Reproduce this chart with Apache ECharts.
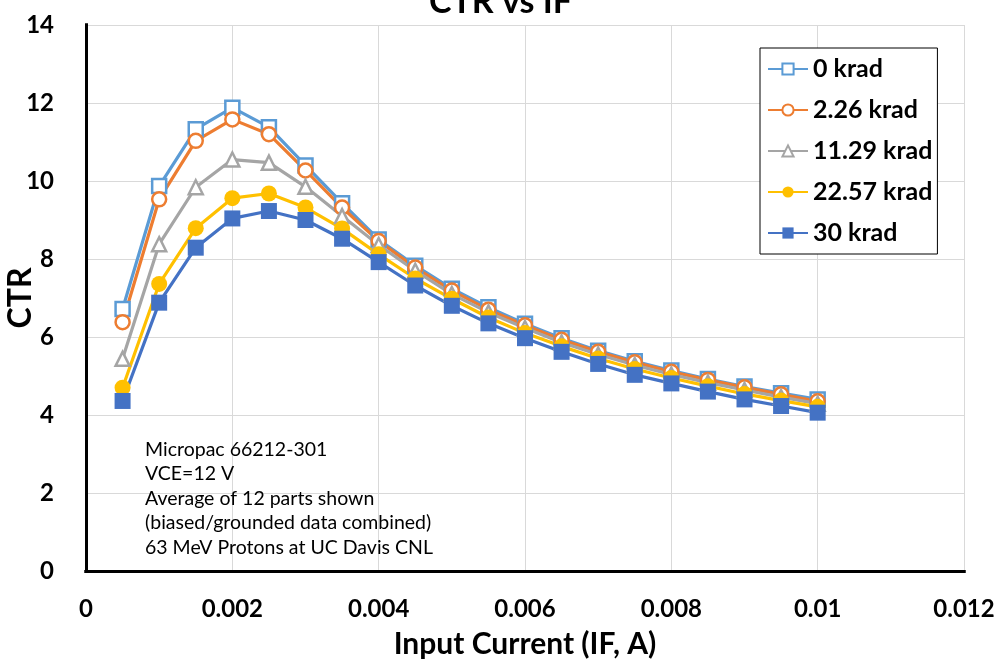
<!DOCTYPE html>
<html>
<head>
<meta charset="utf-8">
<script src="https://cdn.jsdelivr.net/npm/echarts@6/dist/echarts.min.js"></script>
<style>html,body{margin:0;padding:0;background:#fff}#c{width:1001px;height:663px}</style>
</head>
<body>
<div id="c"></div>
<script>
const inputCurrent = [0.0005,0.001,0.0015,0.002,0.0025,0.003,0.0035,0.004,0.0045,0.005,0.0055,0.006,0.0065,0.007,0.0075,0.008,0.0085,0.009,0.0095,0.01];
const ctr0krad   = [6.72,9.87,11.33,11.88,11.38,10.40,9.43,8.50,7.83,7.24,6.76,6.34,5.97,5.65,5.38,5.14,4.92,4.73,4.56,4.40];
const ctr2_26krad = [6.38,9.53,11.03,11.58,11.20,10.27,9.32,8.46,7.78,7.19,6.70,6.30,5.93,5.62,5.35,5.11,4.90,4.71,4.53,4.35];
const ctr11_29krad = [5.44,8.38,9.84,10.55,10.47,9.85,9.10,8.36,7.70,7.10,6.63,6.23,5.86,5.55,5.28,5.04,4.83,4.64,4.46,4.29];
const ctr22_57krad = [4.70,7.36,8.79,9.56,9.68,9.32,8.78,8.12,7.50,6.98,6.50,6.10,5.76,5.45,5.18,4.95,4.74,4.54,4.37,4.21];
const ctr30krad  = [4.36,6.88,8.29,9.04,9.23,9.00,8.52,7.92,7.32,6.80,6.35,5.97,5.62,5.31,5.03,4.81,4.60,4.40,4.23,4.06];
const seriesNames = ['0 krad','2.26 krad','11.29 krad','22.57 krad','30 krad'];
const annotationLines = ['Micropac 66212-301','VCE=12 V','Average of 12 parts shown','(biased/grounded data combined)','63 MeV Protons at UC Davis CNL'];

const FONT = 'Lato, "Open Sans", sans-serif';
const pair = ys => ys.map((y,i)=>[inputCurrent[i], y]);

const styles = [
  {c:'#5B9BD5', sym:'rect', hollow:true},
  {c:'#ED7D31', sym:'circle', hollow:true},
  {c:'#A5A5A5', sym:'triangle', hollow:true},
  {c:'#FFC000', sym:'circle', hollow:false},
  {c:'#4472C4', sym:'rect', hollow:false}
];
const allData = [ctr0krad, ctr2_26krad, ctr11_29krad, ctr22_57krad, ctr30krad];

const series = allData.map((d,i)=>({
  name: seriesNames[i],
  type: 'line',
  data: pair(d),
  symbol: styles[i].sym,
  symbolSize: styles[i].hollow ? 14 : 16,
  showAllSymbol: true,
  lineStyle: {color: styles[i].c, width: 3.2},
  itemStyle: styles[i].hollow
    ? {color: '#fff', borderColor: styles[i].c, borderWidth: 2.5}
    : {color: styles[i].c, borderColor: styles[i].c, borderWidth: 0},
  emphasis: {disabled: true},
  animation: false
}));

const frameLine = {show: true, lineStyle: {color: '#000', width: 3, cap: 'square'}};
const labelStyle = {fontFamily: FONT, fontWeight: 'bold', fontSize: 24, color: '#000'};

const chart = echarts.init(document.getElementById('c'));
chart.setOption({
  animation: false,
  title: {
    text: 'CTR vs IF', left: 'center', top: -20,
    textStyle: {fontFamily: FONT, fontWeight: 'bold', fontSize: 34, color: '#000'}
  },
  grid: {left: 86, right: 37, top: 25, bottom: 92, containLabel: false, outerBoundsMode: 'none'},
  legend: {
    orient: 'vertical', left: 760, top: 48,
    backgroundColor: '#fff', borderColor: '#000', borderWidth: 1,
    padding: [7, 5, 7, 7],
    itemWidth: 40, itemHeight: 14, itemGap: 13,
    textStyle: {fontFamily: FONT, fontWeight: 'bold', fontSize: 25, color: '#000', lineHeight: 28},
    data: seriesNames
  },
  xAxis: [{
    type: 'value', min: 0, max: 0.012, interval: 0.002,
    name: 'Input Current (IF, A)', nameLocation: 'middle', nameGap: 58, nameMoveOverlap: false,
    nameTextStyle: {fontFamily: FONT, fontWeight: 'bold', fontSize: 30, color: '#000'},
    axisLine: frameLine, axisTick: {show: false},
    axisLabel: Object.assign({margin: 26}, labelStyle),
    splitLine: {show: true, lineStyle: {color: '#d9d9d9', width: 1}}
  }, {
    type: 'value', position: 'top', min: 0, max: 0.012, interval: 0.002,
    axisLine: frameLine, axisTick: {show: false}, axisLabel: {show: false}, splitLine: {show: false}
  }],
  yAxis: [{
    type: 'value', min: 0, max: 14, interval: 2,
    name: 'CTR', nameLocation: 'middle', nameGap: 49, nameRotate: 90, nameMoveOverlap: false,
    nameTextStyle: {fontFamily: FONT, fontWeight: 'bold', fontSize: 32, color: '#000'},
    axisLine: frameLine, axisTick: {show: false},
    axisLabel: Object.assign({margin: 32}, labelStyle),
    splitLine: {show: true, lineStyle: {color: '#d9d9d9', width: 1}}
  }, {
    type: 'value', position: 'right', min: 0, max: 14, interval: 2,
    axisLine: frameLine, axisTick: {show: false}, axisLabel: {show: false}, splitLine: {show: false}
  }],
  graphic: [{
    type: 'text', left: 145, top: 437, z: 10,
    style: {text: annotationLines.join('\n'), fontFamily: FONT, fontSize: 19.5, lineHeight: 24.5, fill: '#000'}
  }],
  series: series
});
</script>
</body>
</html>
